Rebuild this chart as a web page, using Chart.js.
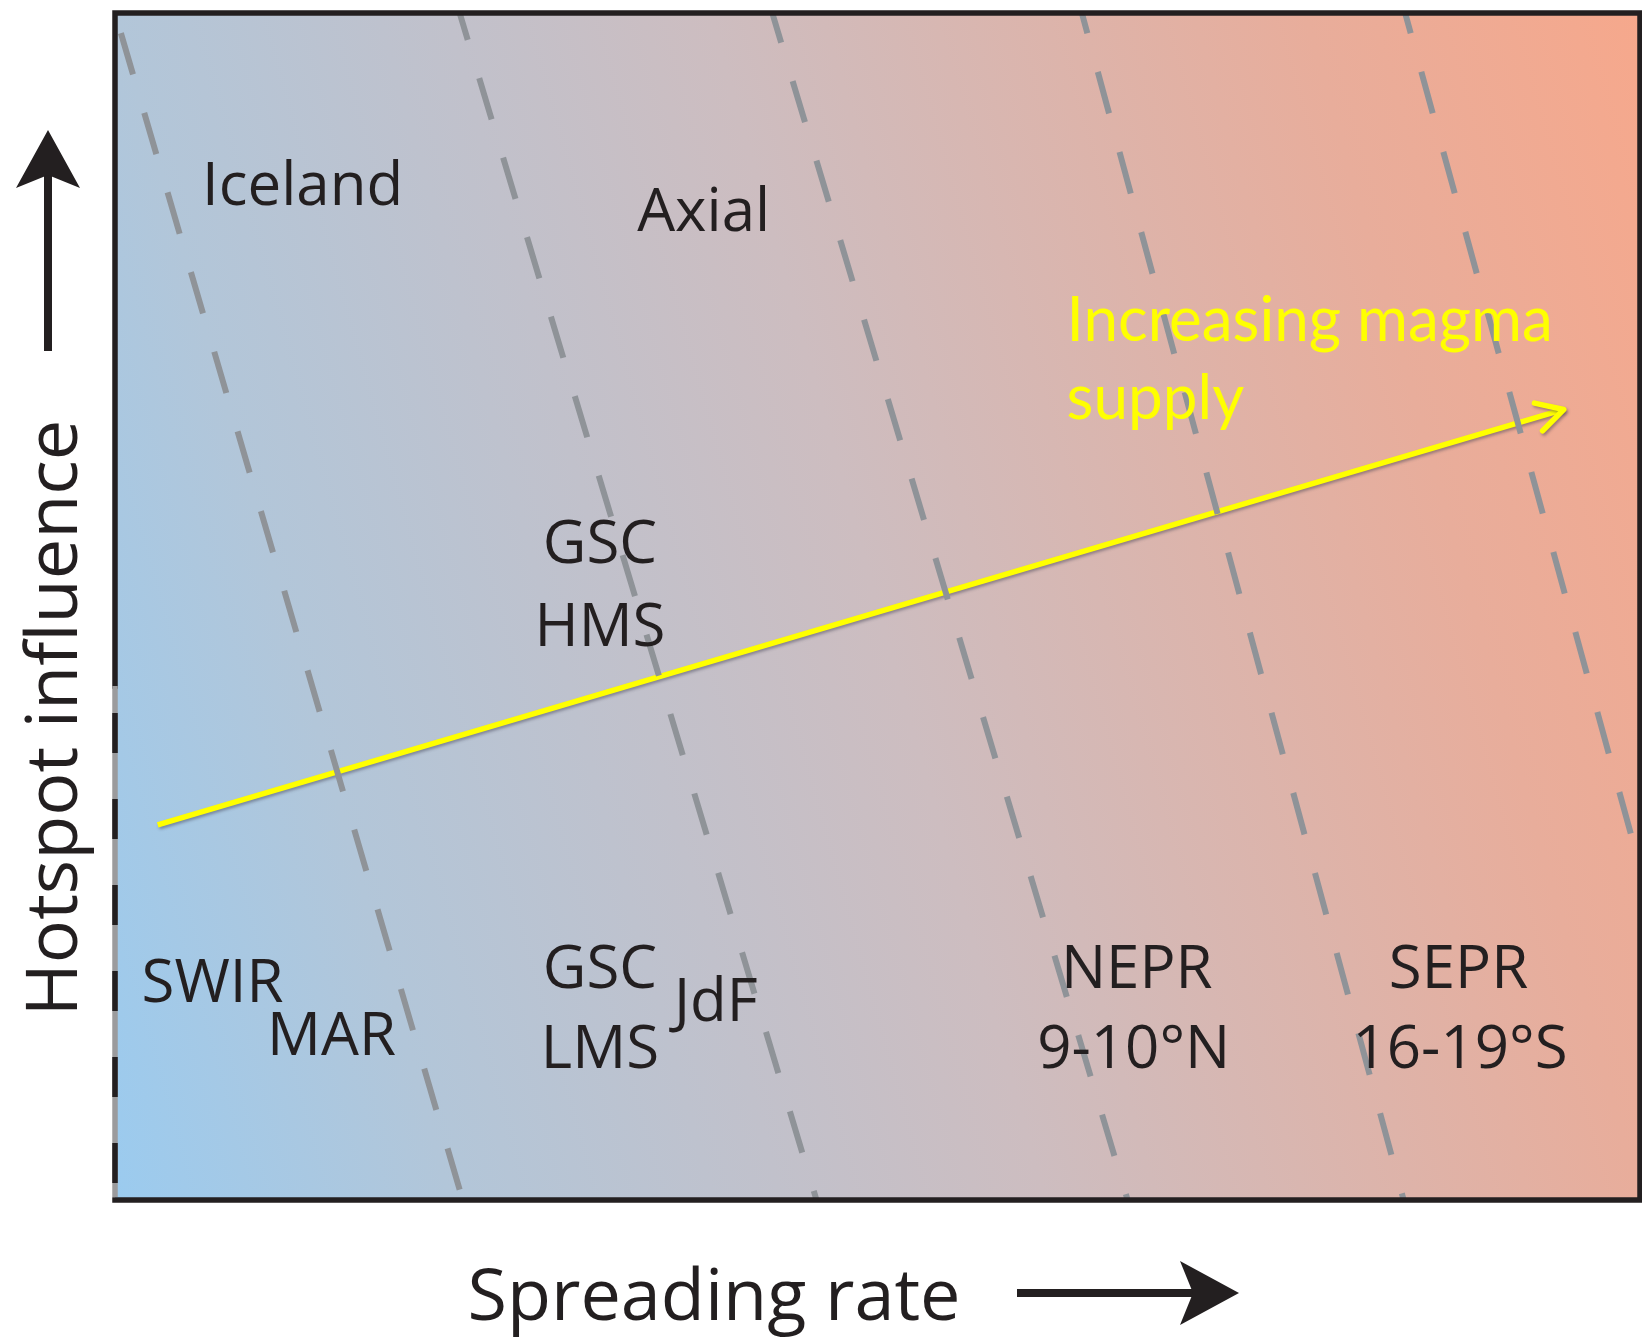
<!DOCTYPE html>
<html><head><meta charset="utf-8">
<script src="https://cdn.jsdelivr.net/npm/chart.js@4/dist/chart.umd.min.js"></script>
<style>html,body{margin:0;padding:0;background:#fff}canvas{display:block}</style>
</head><body>
<canvas id="c" width="1642" height="1340"></canvas>
<script>
// ---- data (arbitrary 0-100 units: x = spreading rate, y = hotspot influence) ----
const boundaryTopX    = [0, 22.6, 43.1, 63.4, 84.6];   // where each dashed boundary meets y = 100
const boundaryBottomX = [22.8, 46.0, 66.4, 84.5, 106.0]; // where it meets y = 0
const arrowX = [2.8, 95.0];
const arrowY = [31.6, 66.6];
const ridgeNames = ['Iceland', 'Axial', 'GSC', 'HMS', 'SWIR', 'MAR', 'GSC', 'LMS', 'JdF', 'NEPR', '9-10°N', 'SEPR', '16-19°S'];
const ridgeX     = [12.3, 38.6, 31.8, 31.8, 6.4, 14.2, 31.8, 31.8, 39.4, 67.0, 66.8, 88.1, 88.2];
const ridgeY     = [83.8, 81.6, 53.7, 46.7, 16.7, 12.2, 17.9, 11.1, 15.1, 17.9, 11.1, 17.9, 11.1];
const arrowCaption = ['Increasing magma', 'supply'];
const captionX = 62.4;
const captionY = [72.4, 65.8];
const xTitle = 'Spreading rate';
const yTitle = 'Hotspot influence';

// ---- styles ----
const dashOffsets = [62, 15, 12, 22, 22];
const INK = '#231f20';

const datasets = boundaryTopX.map((tx, i) => ({
  data: [{x: tx, y: 100}, {x: boundaryBottomX[i], y: 0}],
  showLine: true, pointRadius: 0, borderColor: 'rgb(143,147,152)', borderWidth: 6,
  borderDash: [43, 40], borderDashOffset: dashOffsets[i], borderCapStyle: 'butt'
}));
datasets.push({
  isArrow: true,
  data: arrowX.map((x, i) => ({x, y: arrowY[i]})),
  showLine: true, pointRadius: 0, borderColor: '#ffff00', borderWidth: 5.5, borderCapStyle: 'butt'
});

const deco = {
  id: 'deco',
  beforeDraw(chart) {
    const {ctx, chartArea: a} = chart;
    ctx.save();
    ctx.fillStyle = '#fff';
    ctx.fillRect(0, 0, chart.width, chart.height);
    const w = a.right - a.left, h = a.bottom - a.top, t = 0.282;
    const n = Math.hypot(1, t), dx = 1 / n, dy = -t / n;
    const L = (w + t * h) / n;
    const g = ctx.createLinearGradient(a.left, a.bottom, a.left + dx * L, a.bottom + dy * L);
    g.addColorStop(0, '#9bcbef');
    g.addColorStop(0.18, '#b2c6d9');
    g.addColorStop(0.5, '#cdbdc0');
    g.addColorStop(0.82, '#e8ad9b');
    g.addColorStop(1, '#f6a88c');
    ctx.fillStyle = g;
    ctx.fillRect(a.left, a.top, w, h);
    ctx.restore();
  },
  beforeDatasetDraw(chart, args) {
    if (chart.data.datasets[args.index].isArrow) {
      const ctx = chart.ctx;
      ctx.save();
      ctx.shadowColor = 'rgba(60,60,80,0.45)';
      ctx.shadowOffsetX = 1.5; ctx.shadowOffsetY = 2; ctx.shadowBlur = 3;
    }
  },
  afterDatasetDraw(chart, args) {
    if (chart.data.datasets[args.index].isArrow) {
      const ctx = chart.ctx;
      const xs = chart.scales.x, ys = chart.scales.y;
      const x0 = xs.getPixelForValue(arrowX[0]), y0 = ys.getPixelForValue(arrowY[0]);
      const x1 = xs.getPixelForValue(arrowX[1]), y1 = ys.getPixelForValue(arrowY[1]);
      const ang = Math.atan2(y1 - y0, x1 - x0), len = 30, spread = 0.5;
      ctx.strokeStyle = '#ffff00'; ctx.lineWidth = 5.5; ctx.lineCap = 'round'; ctx.lineJoin = 'round';
      ctx.beginPath();
      ctx.moveTo(x1 - len * Math.cos(ang - spread), y1 - len * Math.sin(ang - spread));
      ctx.lineTo(x1, y1);
      ctx.lineTo(x1 - len * Math.cos(ang + spread), y1 - len * Math.sin(ang + spread));
      ctx.stroke();
      ctx.restore();
    }
  },
  afterDraw(chart) {
    const {ctx, chartArea: a} = chart;
    const xs = chart.scales.x, ys = chart.scales.y;
    ctx.save();
    // frame
    ctx.strokeStyle = INK; ctx.lineWidth = 5.5; ctx.lineCap = 'square';
    ctx.beginPath();
    ctx.moveTo(a.left, a.top + 673); ctx.lineTo(a.left, a.top);
    ctx.lineTo(a.right, a.top); ctx.lineTo(a.right, a.bottom); ctx.lineTo(a.left, a.bottom);
    ctx.stroke();
    ctx.lineCap = 'butt';
    ctx.strokeStyle = '#9b9b9d'; ctx.lineWidth = 5.5;
    ctx.beginPath(); ctx.moveTo(a.left, a.top + 673); ctx.lineTo(a.left, a.bottom - 3); ctx.stroke();
    ctx.strokeStyle = INK; ctx.setLineDash([40, 46]);
    ctx.beginPath(); ctx.moveTo(a.left, a.top + 700); ctx.lineTo(a.left, a.bottom - 3); ctx.stroke();
    ctx.setLineDash([]);

    // ridge labels
    ctx.fillStyle = INK;
    ctx.font = '60px "Open Sans"';
    ctx.textAlign = 'center'; ctx.textBaseline = 'alphabetic';
    ridgeNames.forEach((s, i) => ctx.fillText(s, xs.getPixelForValue(ridgeX[i]), ys.getPixelForValue(ridgeY[i])));

    // caption
    ctx.fillStyle = '#ffff00';
    ctx.font = '62px Lato';
    ctx.textAlign = 'left';
    arrowCaption.forEach((s, i) => ctx.fillText(s, xs.getPixelForValue(captionX), ys.getPixelForValue(captionY[i])));

    // axis titles
    ctx.fillStyle = INK;
    ctx.font = '72px "Open Sans"';
    ctx.textAlign = 'center';
    ctx.fillText(xTitle, 714, a.bottom + 120);
    ctx.save();
    ctx.translate(77, 718); ctx.rotate(-Math.PI / 2);
    ctx.fillText(yTitle, 0, 0);
    ctx.restore();

    // axis arrows
    ctx.strokeStyle = INK; ctx.lineWidth = 8;
    ctx.beginPath(); ctx.moveTo(1017, 1293); ctx.lineTo(1196, 1293); ctx.stroke();
    ctx.beginPath();
    ctx.moveTo(1239, 1293); ctx.lineTo(1180, 1261); ctx.lineTo(1193, 1293); ctx.lineTo(1180, 1325); ctx.closePath();
    ctx.fill();
    ctx.beginPath(); ctx.moveTo(48, 351); ctx.lineTo(48, 172); ctx.stroke();
    ctx.beginPath();
    ctx.moveTo(48, 130); ctx.lineTo(16, 188); ctx.lineTo(48, 175); ctx.lineTo(80, 188); ctx.closePath();
    ctx.fill();
    ctx.restore();
  }
};

new Chart(document.getElementById('c'), {
  type: 'scatter',
  data: {datasets},
  options: {
    responsive: false, animation: false, events: [],
    layout: {padding: {left: 115, top: 13, right: 2, bottom: 140}},
    plugins: {legend: {display: false}, tooltip: {enabled: false}},
    scales: {
      x: {type: 'linear', min: 0, max: 100, display: false},
      y: {type: 'linear', min: 0, max: 100, display: false}
    }
  },
  plugins: [deco]
});
</script>
</body></html>
